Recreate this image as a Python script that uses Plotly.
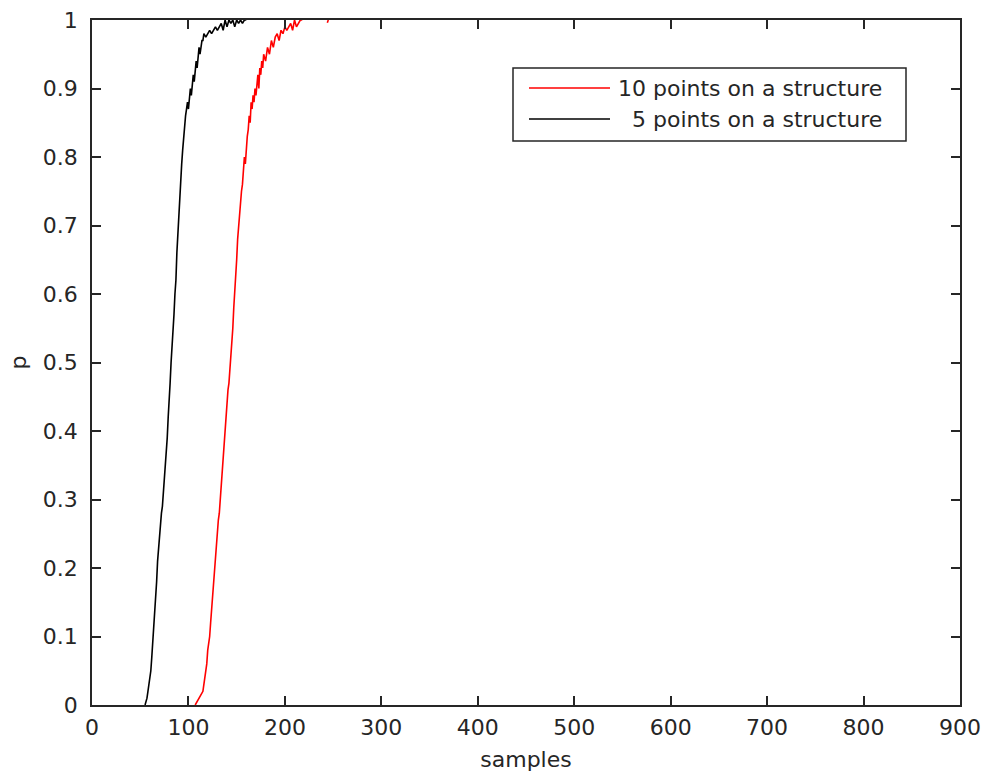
import plotly.graph_objects as go

# ---- data ----
black_x = [55, 57, 58, 60, 61, 62, 63, 64, 65, 66, 67, 68, 69, 70, 71, 72, 73, 74, 75, 76,
           77, 78, 79, 80, 81, 82, 83, 84, 85, 86, 87, 88, 89, 90, 91, 92, 93, 94, 95, 96,
           97, 98, 99, 100, 101, 102, 103, 104, 105, 106, 107, 108, 109, 110, 111, 112, 113,
           114, 115, 116, 118, 120, 122, 124, 126, 128, 130, 132, 134, 136, 138, 140, 142,
           144, 146, 148, 150, 152, 154, 156, 158, 160]
black_y = [0.0, 0.01, 0.02, 0.04, 0.05, 0.07, 0.09, 0.11, 0.13, 0.15, 0.18, 0.21, 0.23, 0.25,
           0.26, 0.28, 0.29, 0.31, 0.32, 0.34, 0.36, 0.39, 0.42, 0.44, 0.47, 0.50, 0.52, 0.55,
           0.57, 0.60, 0.62, 0.66, 0.69, 0.71, 0.74, 0.77, 0.79, 0.81, 0.83, 0.85, 0.86, 0.87,
           0.88, 0.87, 0.89, 0.90, 0.89, 0.91, 0.92, 0.91, 0.93, 0.94, 0.93, 0.95, 0.96, 0.95,
           0.96, 0.97, 0.97, 0.98, 0.975, 0.98, 0.985, 0.98, 0.985, 0.99, 0.985, 0.99, 0.995,
           0.985, 1.0, 0.99, 1.0, 0.995, 1.0, 0.99, 1.0, 0.995, 1.0, 0.995, 1.0, 1.0]

red_x = [107, 109, 111, 113, 115, 116, 117, 118, 119, 120, 121, 122, 123, 124, 125, 126, 127,
         128, 129, 130, 131, 132, 133, 134, 135, 136, 137, 138, 139, 140, 141, 142, 143, 144,
         145, 146, 147, 148, 149, 150, 151, 152, 153, 154, 155, 156, 157, 158, 159, 160, 161,
         162, 163, 164, 165, 166, 167, 168, 169, 170, 171, 172, 173, 174, 175, 176, 177, 178,
         180, 182, 184, 186, 188, 190, 192, 194, 196, 198, 200, 202, 204, 206, 208, 210, 212,
         214, 216, 218, None, 244, 245]
red_y = [0.0, 0.005, 0.01, 0.015, 0.02, 0.03, 0.04, 0.05, 0.06, 0.08, 0.09, 0.10, 0.12, 0.14,
         0.15, 0.17, 0.19, 0.21, 0.23, 0.25, 0.27, 0.28, 0.30, 0.32, 0.34, 0.36, 0.38, 0.40,
         0.43, 0.44, 0.46, 0.47, 0.49, 0.50, 0.52, 0.55, 0.58, 0.60, 0.63, 0.65, 0.68, 0.70,
         0.72, 0.74, 0.75, 0.76, 0.78, 0.80, 0.79, 0.82, 0.83, 0.84, 0.86, 0.85, 0.88, 0.87,
         0.89, 0.88, 0.90, 0.89, 0.91, 0.92, 0.90, 0.93, 0.92, 0.94, 0.93, 0.95, 0.94, 0.96,
         0.95, 0.97, 0.96, 0.975, 0.98, 0.97, 0.985, 0.98, 0.99, 0.985, 0.99, 0.995, 0.985,
         1.0, 0.99, 0.995, 1.0, 1.0, None, 0.996, 1.0]

x_ticks = [0, 100, 200, 300, 400, 500, 600, 700, 800, 900]
y_ticks = [0, 0.1, 0.2, 0.3, 0.4, 0.5, 0.6, 0.7, 0.8, 0.9, 1]
y_tick_text = ["0", "0.1", "0.2", "0.3", "0.4", "0.5", "0.6", "0.7", "0.8", "0.9", "1"]

legend_names = ["10 points on a structure", "5 points on a structure"]
x_title = "samples"
y_title = "p"

W, H = 985, 779
L, R, T, B = 92, 25, 20, 74
FONT = "DejaVu Sans"
TXT = "#262626"
AX = "#262626"

fig = go.Figure()
fig.add_trace(go.Scatter(x=red_x, y=red_y, mode="lines", connectgaps=False,
                         line=dict(color="#ff0000", width=1.6), showlegend=False))
fig.add_trace(go.Scatter(x=black_x, y=black_y, mode="lines",
                         line=dict(color="#000000", width=1.6), showlegend=False))

axis_common = dict(showgrid=False, zeroline=False, showline=True, linecolor=AX, linewidth=1.5,
                   mirror="allticks", ticks="inside", ticklen=9, tickwidth=1.5, tickcolor=AX,
                   automargin=False,
                   tickfont=dict(family=FONT, size=22, color=TXT))

fig.update_xaxes(range=[0, 900], tickvals=x_ticks, ticklabelstandoff=2,
                 title=dict(text=x_title, font=dict(family=FONT, size=22, color=TXT), standoff=12),
                 **axis_common)
fig.update_yaxes(range=[0, 1], tickvals=y_ticks, ticktext=y_tick_text, ticklabelstandoff=8,
                 title=dict(text=y_title, font=dict(family=FONT, size=22, color=TXT), standoff=10),
                 **axis_common)

pw = W - L - R
ph = H - T - B
def px(xp):
    return (xp - L) / pw
def py(yp):
    return (H - B - yp) / ph

# legend box
fig.add_shape(type="rect", xref="paper", yref="paper", x0=px(513), x1=px(906), y0=py(141), y1=py(68),
              line=dict(color=AX, width=1.5), fillcolor="white", layer="above")
colors = ["#ff0000", "#000000"]
rows = [88, 119]
text_x = [618, 632]
for name, c, ry, tx in zip(legend_names, colors, rows, text_x):
    fig.add_shape(type="line", xref="paper", yref="paper", x0=px(529), x1=px(610), y0=py(ry), y1=py(ry),
                  line=dict(color=c, width=1.4), layer="above")
    fig.add_annotation(xref="paper", yref="paper", x=px(tx), y=py(ry), text=name, showarrow=False,
                       xanchor="left", yanchor="middle", xshift=-2,
                       font=dict(family=FONT, size=22, color=TXT))

fig.update_layout(width=W, height=H, margin=dict(l=L, r=R, t=T, b=B),
                  paper_bgcolor="white", plot_bgcolor="white", showlegend=False)

fig.write_html("out.html")
